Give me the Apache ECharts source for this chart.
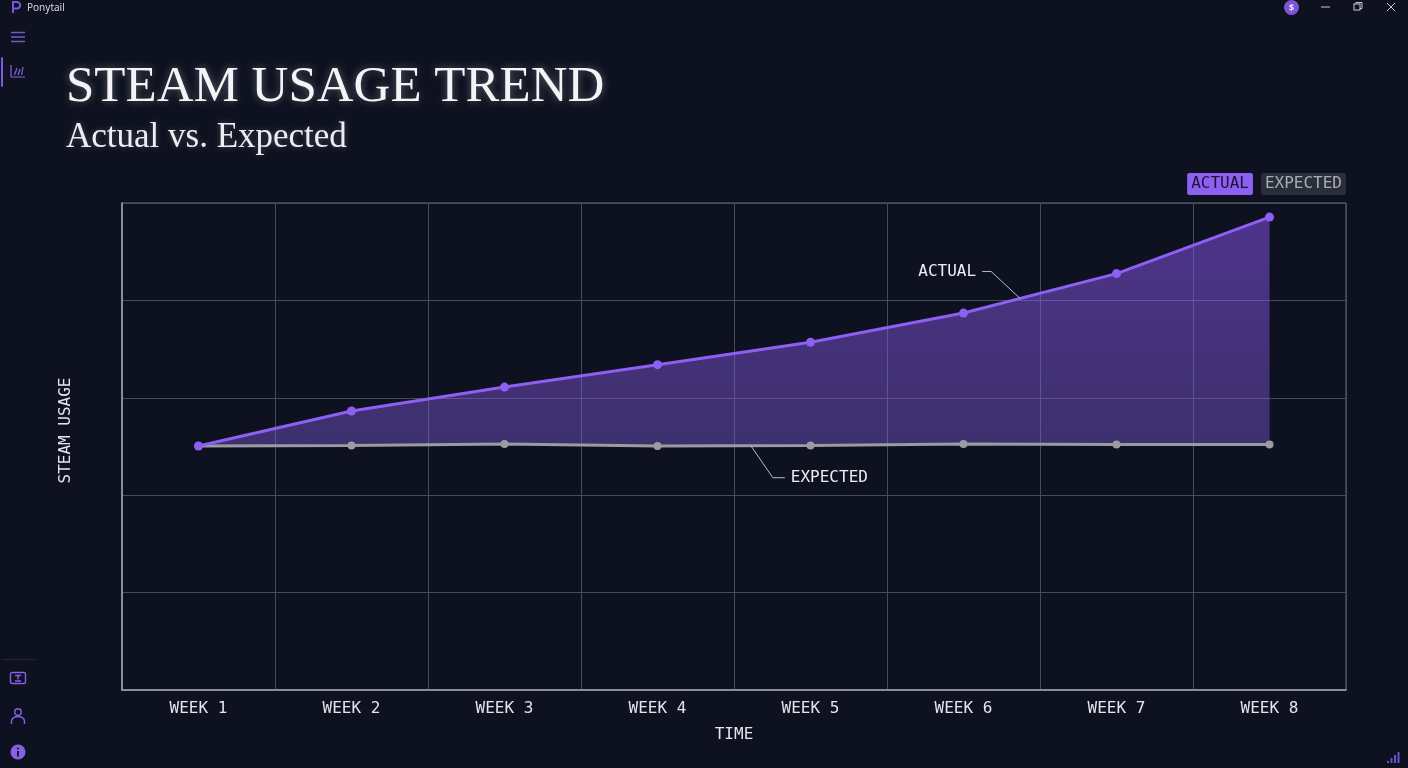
<!DOCTYPE html>
<html>
<head>
<meta charset="utf-8">
<title>Steam usage trend</title>
<script src="https://cdn.jsdelivr.net/npm/echarts@6/dist/echarts.min.js"></script>
<style>
html, body { margin: 0; padding: 0; width: 1408px; height: 768px; overflow: hidden; background: #0e1220; }
#chart { position: absolute; left: 0; top: 0; width: 1408px; height: 768px; }
.chrome { position: absolute; pointer-events: none; }
.appname { left: 27px; top: 0px; font: 10px "Noto Sans", sans-serif; color: #d4d6de; line-height: 14px; }
.active { left: 1px; top: 57px; width: 2px; height: 30px; background: #7e5be0; border-radius: 1px; }
.sep { left: 3px; top: 659px; width: 32px; height: 1px; background: #262a38; }
.coin { left: 1284px; top: 0px; width: 15px; height: 15px; border-radius: 50%; background: #7c55d8;
        color: #f0eaff; font: bold 9px "Noto Sans", sans-serif; text-align: center; line-height: 15px; }
</style>
</head>
<body>
<div id="chart"></div>

<!-- window chrome -->
<svg class="chrome" style="left:9px;top:0px" width="14" height="14" viewBox="0 0 14 14">
  <path d="M4 13 V2 H8 A3.2 3.2 0 0 1 8 8.4 H4" fill="none" stroke="#7a57d6" stroke-width="2"/>
</svg>
<div class="chrome appname">Ponytail</div>
<div class="chrome coin">$</div>
<svg class="chrome" style="left:1318px;top:0px" width="90" height="14" viewBox="0 0 90 14">
  <line x1="3" y1="7" x2="12" y2="7" stroke="#c8cad2" stroke-width="1"/>
  <rect x="36" y="4" width="6" height="6" fill="none" stroke="#c8cad2" stroke-width="1"/>
  <path d="M38 4 V2.5 H44 V8.5 H42" fill="none" stroke="#c8cad2" stroke-width="1"/>
  <path d="M69 3 L77 11 M77 3 L69 11" stroke="#c8cad2" stroke-width="1"/>
</svg>
<svg class="chrome" style="left:10px;top:30px" width="16" height="14" viewBox="0 0 16 14">
  <path d="M1 2.5 H15 M1 7 H15 M1 11.5 H15" stroke="#7459c8" stroke-width="1.4"/>
</svg>
<div class="chrome active"></div>
<svg class="chrome" style="left:10px;top:64px" width="16" height="14" viewBox="0 0 16 14">
  <path d="M1 1 V13 H15" fill="none" stroke="#8462e6" stroke-width="1.2"/>
  <path d="M4.5 11 L7 4 M8 11 L10 5 M11.5 11 L13 3" stroke="#8462e6" stroke-width="1.2"/>
</svg>
<div class="chrome sep"></div>
<svg class="chrome" style="left:9px;top:671px" width="18" height="16" viewBox="0 0 18 16">
  <rect x="1.5" y="1.5" width="15" height="11" rx="1.5" fill="none" stroke="#8462e6" stroke-width="1.4"/>
  <path d="M6 4.5 H12 M9 4.5 V8.5 M6 10 H12" stroke="#8462e6" stroke-width="1.4"/>
</svg>
<svg class="chrome" style="left:9px;top:707px" width="18" height="18" viewBox="0 0 18 18">
  <circle cx="9" cy="5" r="3.3" fill="none" stroke="#8462e6" stroke-width="1.4"/>
  <path d="M2.5 17 V14 A6.5 4.5 0 0 1 15.5 14 V17" fill="none" stroke="#8462e6" stroke-width="1.4"/>
</svg>
<svg class="chrome" style="left:9px;top:743px" width="18" height="18" viewBox="0 0 18 18">
  <circle cx="9" cy="9" r="7.5" fill="#8462e6"/>
  <circle cx="9" cy="5.5" r="1.1" fill="#0e1220"/>
  <path d="M9 8 V13.5" stroke="#0e1220" stroke-width="1.8"/>
</svg>
<svg class="chrome" style="left:1386px;top:750px" width="16" height="14" viewBox="0 0 16 14">
  <path d="M2 13 V11 M5.5 13 V8 M9 13 V5 M12.5 13 V2" stroke="#6e4fd0" stroke-width="2"/>
</svg>

<script>
// 图表数据
var weeks = ['WEEK 1', 'WEEK 2', 'WEEK 3', 'WEEK 4', 'WEEK 5', 'WEEK 6', 'WEEK 7', 'WEEK 8'];
var actual = [50.1, 57.3, 62.2, 66.8, 71.4, 77.4, 85.5, 97.1];
var expected = [50.1, 50.2, 50.5, 50.1, 50.2, 50.5, 50.4, 50.4];
var yMin = 0;
var yMax = 100;
var yStep = 20;

var purple = '#8d5ff2';
var grey = '#9a9ba3';
var mono = '"DejaVu Sans Mono", monospace';
var serif = '"Liberation Serif", "DejaVu Serif", serif';

// 两条线之间的差值，用来堆叠出填充区域
var gap = actual.map(function (v, i) { return +(v - expected[i]).toFixed(2); });

var myChart = echarts.init(document.getElementById('chart'));

var option = {
    backgroundColor: 'transparent',
    animation: false,
    title: {
        text: 'STEAM USAGE TREND',
        subtext: 'Actual vs. Expected',
        left: 61,
        top: 57,
        itemGap: 7,
        textStyle: {
            fontFamily: serif,
            fontSize: 51,
            fontWeight: 'normal',
            color: '#f4f4f6',
            textShadowColor: 'rgba(255,255,255,0.35)',
            textShadowBlur: 8
        },
        subtextStyle: {
            fontFamily: serif,
            fontSize: 35,
            color: '#eeeef2',
            textShadowColor: 'rgba(255,255,255,0.25)',
            textShadowBlur: 6
        }
    },
    legend: {
        right: 62,
        top: 173,
        padding: 0,
        itemGap: 3,
        itemWidth: 0,
        itemHeight: 0,
        icon: 'rect',
        selectedMode: false,
        data: [
            {
                name: 'ACTUAL',
                textStyle: {
                    color: '#1b1433', backgroundColor: purple,
                    padding: [4, 4, 2, 4], borderRadius: 2,
                    fontFamily: mono, fontSize: 16, lineHeight: 16
                }
            },
            {
                name: 'EXPECTED',
                textStyle: {
                    color: '#a9adb6', backgroundColor: '#2a2e3a',
                    padding: [4, 4, 2, 4], borderRadius: 2,
                    fontFamily: mono, fontSize: 16, lineHeight: 16
                }
            }
        ]
    },
    grid: {
        left: 122,
        right: 62,
        top: 203,
        bottom: 78,
        show: true,
        borderColor: '#6b707c',
        borderWidth: 1
    },
    xAxis: {
        type: 'category',
        data: weeks,
        boundaryGap: true,
        name: 'TIME',
        nameLocation: 'middle',
        nameGap: 37,
        nameTextStyle: { color: '#e2e4ea', fontFamily: mono, fontSize: 16 },
        axisLine: { lineStyle: { color: '#a2a6b0', width: 1.5 } },
        axisTick: { show: false },
        axisLabel: { color: '#e2e4ea', fontFamily: mono, fontSize: 16, margin: 11 },
        splitLine: { show: true, interval: 0, lineStyle: { color: '#474c5c', width: 1 } }
    },
    yAxis: {
        type: 'value',
        min: yMin,
        max: yMax,
        interval: yStep,
        name: 'STEAM USAGE',
        nameLocation: 'middle',
        nameGap: 48,
        nameRotate: 90,
        nameTextStyle: { color: '#e2e4ea', fontFamily: mono, fontSize: 16, padding: [0, 0, 0, 32] },
        axisLine: { show: true, lineStyle: { color: '#a2a6b0', width: 1.5 } },
        axisTick: { show: false },
        axisLabel: { show: false },
        splitLine: { lineStyle: { color: '#474c5c', width: 1 } }
    },
    series: [
        {
            name: 'base',
            type: 'line',
            stack: 'band',
            data: expected,
            symbol: 'none',
            silent: true,
            lineStyle: { opacity: 0 },
            z: 1
        },
        {
            name: 'band',
            type: 'line',
            stack: 'band',
            data: gap,
            symbol: 'none',
            silent: true,
            lineStyle: { opacity: 0 },
            areaStyle: {
                color: new echarts.graphic.LinearGradient(0, 0, 0, 1, [
                    { offset: 0, color: 'rgba(138, 84, 240, 0.74)' },
                    { offset: 1, color: 'rgba(124, 88, 210, 0.62)' }
                ])
            },
            z: 1
        },
        {
            name: 'EXPECTED',
            type: 'line',
            data: expected,
            symbol: 'circle',
            symbolSize: 8,
            itemStyle: { color: grey },
            lineStyle: { color: grey, width: 3 },
            z: 3
        },
        {
            name: 'ACTUAL',
            type: 'line',
            data: actual,
            symbol: 'circle',
            symbolSize: 9,
            itemStyle: { color: purple },
            lineStyle: { color: purple, width: 3 },
            z: 4
        }
    ]
};

myChart.setOption(option);

// 线上的注释：取两点之间的位置，画引线和文字
function pointOn(values, i, t) {
    var a = myChart.convertToPixel({ gridIndex: 0 }, [i, values[i]]);
    var b = myChart.convertToPixel({ gridIndex: 0 }, [i + 1, values[i + 1]]);
    return [a[0] + (b[0] - a[0]) * t, a[1] + (b[1] - a[1]) * t];
}

var pa = pointOn(actual, 5, 0.37);
var pe = pointOn(expected, 3, 0.61);
var noteText = { fill: '#eceef2', fontFamily: mono, fontSize: 16 };
var leader = { stroke: '#b8bcc6', lineWidth: 1 };

myChart.setOption({
    graphic: [
        {
            type: 'polyline', silent: true, z: 10,
            shape: { points: [pa, [pa[0] - 29, pa[1] - 27], [pa[0] - 38, pa[1] - 27]] },
            style: leader
        },
        {
            type: 'text', silent: true, z: 10,
            x: pa[0] - 44, y: pa[1] - 27,
            style: Object.assign({ text: 'ACTUAL', align: 'right', verticalAlign: 'middle' }, noteText)
        },
        {
            type: 'polyline', silent: true, z: 10,
            shape: { points: [pe, [pe[0] + 22, pe[1] + 32], [pe[0] + 34, pe[1] + 32]] },
            style: leader
        },
        {
            type: 'text', silent: true, z: 10,
            x: pe[0] + 40, y: pe[1] + 32,
            style: Object.assign({ text: 'EXPECTED', align: 'left', verticalAlign: 'middle' }, noteText)
        }
    ]
});
</script>
</body>
</html>
